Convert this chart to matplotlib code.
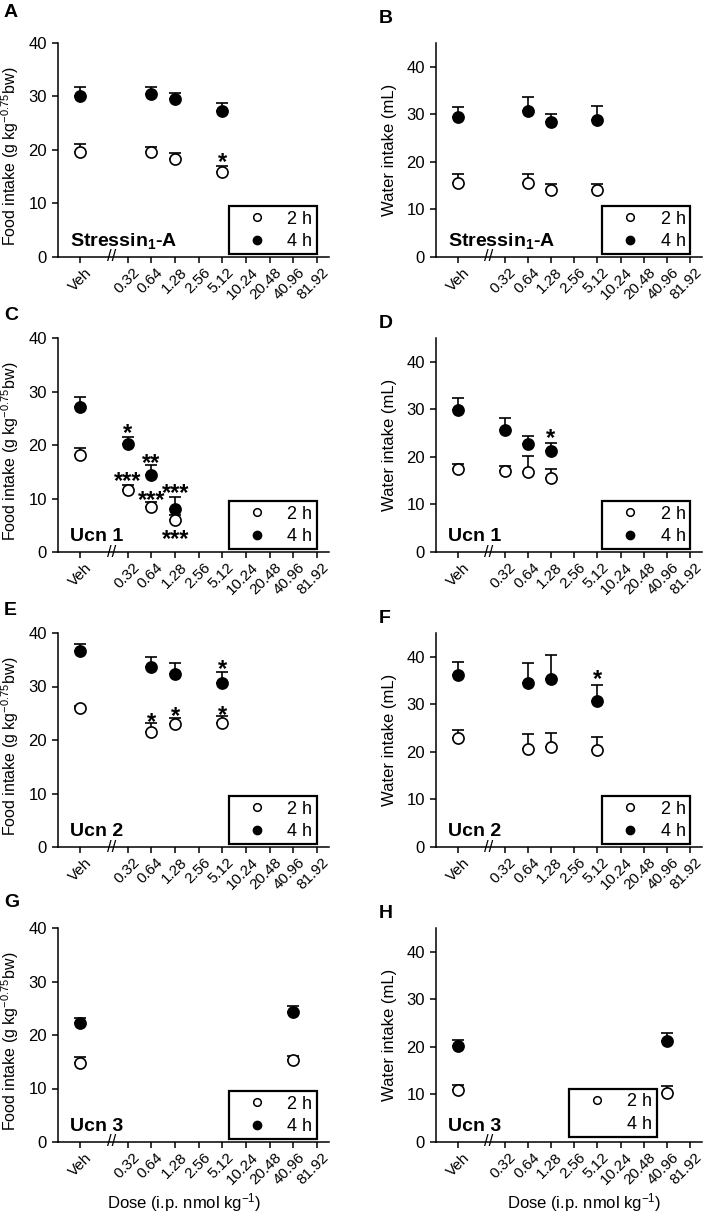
import matplotlib
matplotlib.use('Agg')
import matplotlib.pyplot as plt
import matplotlib.transforms as mtransforms
from matplotlib.lines import Line2D

plt.rcParams['font.family'] = ['Liberation Sans', 'DejaVu Sans']
plt.rcParams['mathtext.fontset'] = 'custom'
plt.rcParams['mathtext.rm'] = 'Liberation Sans'
plt.rcParams['mathtext.it'] = 'Liberation Sans:italic'
plt.rcParams['mathtext.bf'] = 'Liberation Sans:bold'

# x axis: categorical doses, Veh separated by an axis break
dose_labels = ['Veh', '0.32', '0.64', '1.28', '2.56', '5.12',
               '10.24', '20.48', '40.96', '81.92']
dose_pos = [0, 2, 3, 4, 5, 6, 7, 8, 9, 10]

# A: Stressin1-A, food
a_doses = ['Veh', '0.64', '1.28', '5.12']
a_2h = [19.6, 19.7, 18.3, 15.8]
a_2h_sem = [1.5, 0.9, 1.2, 1.2]
a_4h = [30.0, 30.4, 29.5, 27.3]
a_4h_sem = [1.8, 1.3, 1.2, 1.4]
a_stars = [('5.12', 19.1, '*')]

# B: Stressin1-A, water
b_doses = ['Veh', '0.64', '1.28', '5.12']
b_2h = [15.6, 15.6, 14.1, 14.0]
b_2h_sem = [1.9, 1.9, 1.2, 1.3]
b_4h = [29.4, 30.7, 28.4, 28.8]
b_4h_sem = [2.2, 3.0, 1.6, 2.9]
b_stars = []

# C: Ucn 1, food
c_doses = ['Veh', '0.32', '0.64', '1.28']
c_2h = [18.1, 11.5, 8.5, 6.0]
c_2h_sem = [1.3, 1.0, 0.8, 1.0]
c_4h = [27.1, 20.2, 14.3, 8.1]
c_4h_sem = [1.9, 1.3, 1.9, 2.1]
c_stars = [('0.32', 23.5, '*'), ('0.32', 14.5, '***'), ('0.64', 18.0, '**'),
           ('0.64', 11.0, '***'), ('1.28', 12.3, '***'), ('1.28', 3.7, '***')]

# D: Ucn 1, water
d_doses = ['Veh', '0.32', '0.64', '1.28']
d_2h = [17.4, 17.0, 16.8, 15.6]
d_2h_sem = [1.2, 1.0, 3.4, 1.8]
d_4h = [29.9, 25.6, 22.8, 21.2]
d_4h_sem = [2.5, 2.6, 1.6, 1.8]
d_stars = [('1.28', 25.4, '*')]

# E: Ucn 2, food
e_doses = ['Veh', '0.64', '1.28', '5.12']
e_2h = [25.9, 21.5, 22.9, 23.1]
e_2h_sem = [0.5, 1.6, 1.2, 1.3]
e_4h = [36.6, 33.6, 32.4, 30.7]
e_4h_sem = [1.3, 1.9, 2.0, 2.0]
e_stars = [('0.64', 24.7, '*'), ('1.28', 25.8, '*'), ('5.12', 26.0, '*'),
           ('5.12', 34.6, '*')]

# F: Ucn 2, water
f_doses = ['Veh', '0.64', '1.28', '5.12']
f_2h = [23.0, 20.7, 21.0, 20.5]
f_2h_sem = [1.7, 3.0, 3.0, 2.6]
f_4h = [36.2, 34.5, 35.3, 30.6]
f_4h_sem = [2.6, 4.2, 5.1, 3.5]
f_stars = [('5.12', 36.7, '*')]

# G: Ucn 3, food
g_doses = ['Veh', '40.96']
g_2h = [14.8, 15.4]
g_2h_sem = [1.1, 0.6]
g_4h = [22.2, 24.3]
g_4h_sem = [1.0, 1.2]
g_stars = []

# H: Ucn 3, water
h_doses = ['Veh', '40.96']
h_2h = [11.0, 10.3]
h_2h_sem = [0.9, 1.4]
h_4h = [20.1, 21.2]
h_4h_sem = [1.4, 1.8]
h_stars = []

food_label = 'Food intake (g kg$^{-0.75}$bw)'
water_label = 'Water intake (mL)'
dose_axis_label = 'Dose (i.p. nmol kg$^{-1}$)'

W, H = 709, 1215
fig = plt.figure(figsize=(W / 100, H / 100), dpi=100)

col_x = [(58, 271), (436, 266)]
row_top = [43, 338, 633, 928]
ax_h = 214

panels = [
    ('A', 'Stressin$_{\\mathbf{1}}$-A', 0, 0, a_doses, a_2h, a_2h_sem, a_4h, a_4h_sem, a_stars),
    ('B', 'Stressin$_{\\mathbf{1}}$-A', 0, 1, b_doses, b_2h, b_2h_sem, b_4h, b_4h_sem, b_stars),
    ('C', 'Ucn 1', 1, 0, c_doses, c_2h, c_2h_sem, c_4h, c_4h_sem, c_stars),
    ('D', 'Ucn 1', 1, 1, d_doses, d_2h, d_2h_sem, d_4h, d_4h_sem, d_stars),
    ('E', 'Ucn 2', 2, 0, e_doses, e_2h, e_2h_sem, e_4h, e_4h_sem, e_stars),
    ('F', 'Ucn 2', 2, 1, f_doses, f_2h, f_2h_sem, f_4h, f_4h_sem, f_stars),
    ('G', 'Ucn 3', 3, 0, g_doses, g_2h, g_2h_sem, g_4h, g_4h_sem, g_stars),
    ('H', 'Ucn 3', 3, 1, h_doses, h_2h, h_2h_sem, h_4h, h_4h_sem, h_stars),
]
letter_top = {'A': 7, 'B': 13, 'C': 310, 'D': 318, 'E': 605, 'F': 613, 'G': 897, 'H': 908}

pos_of = dict(zip(dose_labels, dose_pos))
shift_right = mtransforms.ScaledTranslation(0.045, 0, fig.dpi_scale_trans)

for letter, agent, row, col, doses, m2, s2, m4, s4, stars in panels:
    x0, w = col_x[col]
    top = row_top[row]
    ax = fig.add_axes([x0 / W, 1 - (top + ax_h) / H, w / W, ax_h / H])
    x = [pos_of[d] for d in doses]

    for m, s, face in [(m4, s4, 'black'), (m2, s2, 'white')]:
        ax.errorbar(x, m, yerr=[[0] * len(s), s], fmt='o', ms=8, mfc=face,
                    mec='black', mew=1.2, ecolor='black', elinewidth=1.2,
                    capsize=4, capthick=1.2, clip_on=False)

    for d, y, s in stars:
        ax.annotate(s, (pos_of[d], y), xytext=(0, -10), textcoords='offset points',
                    ha='center', va='baseline', fontsize=17, fontweight='bold')

    ax.set_xlim(-0.95, 10.5)
    if col == 0:
        ax.set_ylim(0, 40)
        ax.set_ylabel(food_label, fontsize=11.5)
        ax.yaxis.set_label_coords(-37 / w, 0.47)
    else:
        ax.set_ylim(0, 45)
        ax.set_ylabel(water_label, fontsize=12)
        ax.yaxis.set_label_coords(-39 / w, 0.5)
    ax.set_yticks([0, 10, 20, 30, 40])
    ax.tick_params(axis='x', pad=1.5)
    ax.tick_params(axis='y', labelsize=12)
    ax.tick_params(direction='out', length=4.5, width=1.1)
    ax.set_xticks(dose_pos)
    ax.set_xticklabels(dose_labels, rotation=45, ha='right', va='top',
                       rotation_mode='anchor', fontsize=11)
    for lab in ax.get_xticklabels():
        lab.set_transform(lab.get_transform() + shift_right)
    for side in ['top', 'right']:
        ax.spines[side].set_visible(False)
    for side in ['left', 'bottom']:
        ax.spines[side].set_linewidth(1.1)

    trans = mtransforms.blended_transform_factory(ax.transData, ax.transAxes)
    ax.text(1.33, 0, '//', transform=trans, ha='center', va='center', fontsize=12)

    ax.text(0.045, 0.05, agent, transform=ax.transAxes, fontsize=14,
            fontweight='bold', va='baseline')

    if row == 3:
        ax.set_xlabel(dose_axis_label, fontsize=12)
        ax.xaxis.set_label_coords(0.467 if col == 0 else 0.556, -0.23)

    open_h = Line2D([], [], ls='none', marker='o', ms=5.5, mfc='white', mec='black', mew=1.1)
    fill_h = Line2D([], [], ls='none', marker='o', ms=6, mfc='black', mec='black')
    if letter == 'H':
        fill_h = Line2D([], [], ls='none', marker='None')
        anchor = (0.83, 0.023)
    else:
        anchor = (0.955, 0.012)
    leg = ax.legend([open_h, fill_h], ['2 h', '4 h'], loc='lower right',
                    bbox_to_anchor=anchor, fontsize=13, frameon=True,
                    fancybox=False, edgecolor='black', framealpha=1,
                    borderpad=0.25, labelspacing=0.3, handlelength=2.6,
                    handletextpad=0.4, borderaxespad=0)
    leg.get_frame().set_linewidth(1.6)

    fig.text((4 if col == 0 else 379) / W, 1 - (letter_top[letter] - 3) / H, letter,
             fontsize=14, fontweight='bold', va='top')

fig.savefig('out.png', dpi=100)
